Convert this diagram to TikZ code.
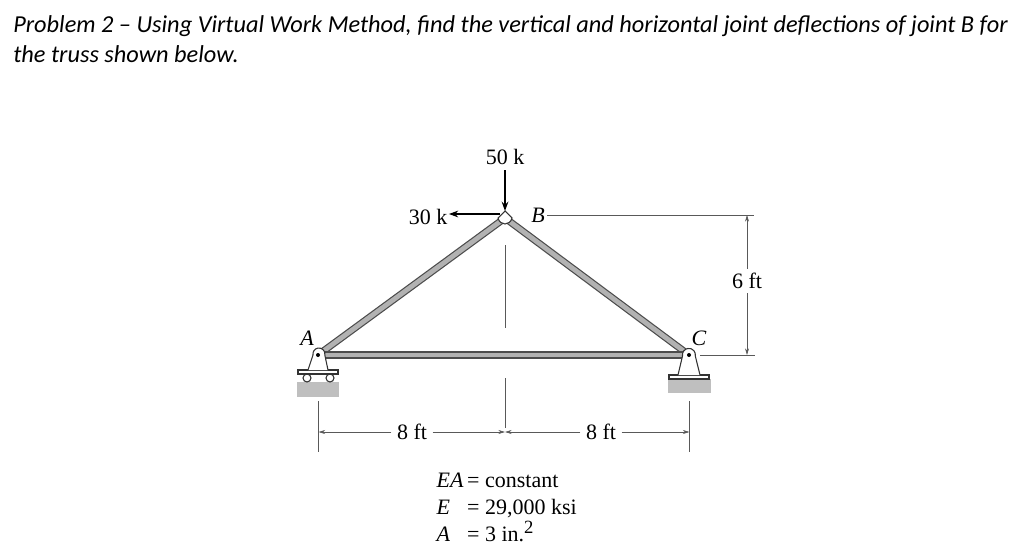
\documentclass[tikz,border=0pt]{standalone}
\usepackage{fontspec}
\setmainfont{Liberation Serif}
\newfontfamily\titlefont{Carlito}
\usetikzlibrary{arrows.meta}
\colorlet{member-fill}{black!30}
\colorlet{ground-fill}{black!25}
\tikzset{
    x=0.75pt, y=-0.75pt,
    label-text/.style = {font=\fontsize{16.5}{20}\selectfont, inner sep=1pt},
    joint-text/.style = {label-text, font=\fontsize{16.5}{20}\selectfont\itshape},
    dim-text/.style = {label-text, inner xsep=4pt, inner ysep=3pt},
    title-text/.style = {font=\titlefont\itshape\fontsize{18.25}{22.5}\selectfont, inner sep=0pt, align=left, anchor=north west},
    truss-member/.style = {draw=black!70, double=member-fill, double distance=3.6pt, line width=0.9pt},
    dim-line/.style = {draw=black!65, line width=0.5pt},
    dim-arrow/.style = {dim-line, -{Stealth[length=5pt,width=3pt]}},
    load-arrow/.style = {draw=black, line width=1.3pt, -{Stealth[length=7pt,width=5pt]}},
    ground-block/.style = {fill=ground-fill, draw=none},
    plate/.style = {draw=black!80, fill=white, line width=0.8pt},
    joint-dot/.style = {circle, fill=black, inner sep=0pt, minimum size=3pt},
}
\begin{document}
\begin{tikzpicture}
\useasboundingbox (0,0) rectangle (1024,560);
\node [title-text] (title) at (13,15) {Problem 2 – Using Virtual Work Method, find the vertical and horizontal joint deflections of joint B for\\the truss shown below.};

% joints
\coordinate (A) at (318,355);
\coordinate (B) at (505,218);
\coordinate (C) at (689,355);

% ground and supports
\fill [ground-block] (297,382) rectangle (339,397);
\fill [ground-block] (668,379) rectangle (711,393);
\draw [plate] (307,378) circle (4);
\draw [plate] (330,378) circle (4);
\draw [plate] (298,370) rectangle (338,374);
\draw [plate] (669,375) rectangle (709,379);

% members
\draw [truss-member] (A) -- (B);
\draw [truss-member] (B) -- (C);
\draw [truss-member] (A) -- (C);

% gussets
\draw [plate] (308,370) -- (313,355) arc (170:370:6) -- (328,370);
\draw [plate] (678,375) -- (682.5,356) arc (170:370:6.5) -- (700,375);
\draw [plate] (498,218) .. controls (501,215) and (503,213) .. (505,211) .. controls (507,213) and (509,215) .. (512,218) .. controls (510,226) and (500,226) .. (498,218) -- cycle;
\node [joint-dot] (pin-A) at (A) {};
\node [joint-dot] (pin-C) at (C) {};

% loads
\node [label-text] (load-v) at (505,157) {50 k};
\node [label-text] (load-h) at (428,217) {30 k};
\draw [load-arrow] (load-v.south) ++(0,4) -- (B |- 0,211);
\coordinate (load-h-start) at (500,214);
\draw [load-arrow] (load-h-start) -- (load-h.east |- load-h-start);

% labels
\node [joint-text] (label-A) at (307,338) {A};
\node [joint-text] (label-B) at (538,215) {B};
\node [joint-text] (label-C) at (699,338) {C};

% dimensions
\node [dim-text] (dim-l) at (412,432) {8 ft};
\node [dim-text] (dim-r) at (601,432) {8 ft};
\node [dim-text] (dim-h) at (747,281) {6 ft};
\coordinate (ext-a1) at (318.5,401);
\coordinate (ext-a2) at (318.5,452);
\coordinate (ext-m1) at (505,378);
\coordinate (ext-m2) at (505,428);
\coordinate (ext-m3) at (505,245);
\coordinate (ext-m4) at (505,328);
\coordinate (ext-c1) at (689.5,401);
\coordinate (ext-c2) at (689.5,452);
\coordinate (ext-b1) at (547,215);
\coordinate (ext-b2) at (754,215);
\coordinate (ext-d1) at (700,355);
\coordinate (ext-d2) at (755,355);
\draw [dim-line] (ext-a1) -- (ext-a2);
\draw [dim-line] (ext-m1) -- (ext-m2);
\draw [dim-line] (ext-m3) -- (ext-m4);
\draw [dim-line] (ext-c1) -- (ext-c2);
\draw [dim-line] (ext-b1) -- (ext-b2);
\draw [dim-line] (ext-d1) -- (ext-d2);
\draw [dim-arrow] (dim-l.west) -- (ext-a1 |- dim-l.west);
\draw [dim-arrow] (dim-l.east) -- (ext-m1 |- dim-l.east);
\draw [dim-arrow] (dim-r.west) -- (ext-m1 |- dim-r.west);
\draw [dim-arrow] (dim-r.east) -- (ext-c1 |- dim-r.east);
\draw [dim-arrow] (dim-h.north) -- (dim-h.north |- ext-b1);
\draw [dim-arrow] (dim-h.south) -- (dim-h.south |- ext-d1);

% properties
\node [label-text, anchor=north west, align=left] (props) at (435,467) {\begin{tabular}{@{}l@{\,}l@{}}
    \textit{EA} & = constant\\[0.5pt]
    \textit{E} & = 29,000 ksi\\[0.5pt]
    \textit{A} & = 3 in.\smash{\raisebox{0.38em}{\fontsize{14}{14}\selectfont 2}}
\end{tabular}};
\end{tikzpicture}
\end{document}
